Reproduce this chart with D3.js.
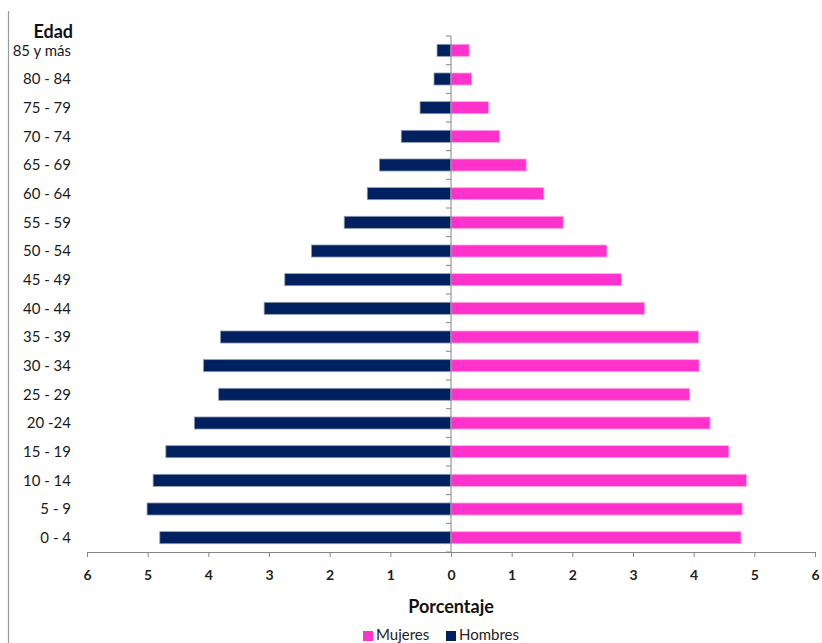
<!DOCTYPE html>
<html><head><meta charset="utf-8">
<script src="https://cdn.jsdelivr.net/npm/d3@7"></script>
<style>
html,body{margin:0;padding:0;background:#fff;}
svg{display:block;font-family:Lato,"Open Sans",sans-serif;}
</style></head>
<body>
<script>
const ages = ["0 - 4","5 - 9","10 - 14","15 - 19","20 -24","25 - 29","30 - 34","35 - 39","40 - 44","45 - 49","50 - 54","55 - 59","60 - 64","65 - 69","70 - 74","75 - 79","80 - 84","85 y más"];
const hombres = [4.80,5.01,4.91,4.70,4.23,3.83,4.08,3.80,3.08,2.74,2.30,1.76,1.38,1.18,0.82,0.51,0.28,0.23];
const mujeres = [4.78,4.80,4.87,4.58,4.27,3.93,4.09,4.08,3.19,2.81,2.57,1.85,1.53,1.24,0.80,0.62,0.34,0.30];
const xTicks = [-6,-5,-4,-3,-2,-1,0,1,2,3,4,5,6];
const seriesNames = ["Mujeres","Hombres"];
const colors = {Mujeres:"#ff33cc", Hombres:"#002060"};

const W = 822, H = 643;
const svg = d3.select("body").append("svg").attr("width",W).attr("height",H);

// left frame line
svg.append("line").attr("x1",8.5).attr("x2",8.5).attr("y1",11).attr("y2",H).attr("stroke","#9a9a9a").attr("stroke-width",1.2);

const x = d3.scaleLinear().domain([-6,6]).range([87,815]);
const order = ages.slice().reverse();
const yBand = d3.scaleBand().domain(order).range([36,552]).padding(0);
const yBar = d3.scaleBand().domain(order).range([36,552]).paddingInner(0.58).paddingOuter(0.29);

// bars
const rows = ages.map((a,i)=>({age:a,h:hombres[i],m:mujeres[i]}));
svg.append("g").selectAll("rect").data(rows).join("rect")
  .attr("x",d=>x(-d.h)).attr("width",d=>x(0)-x(-d.h))
  .attr("y",d=>yBar(d.age)).attr("height",yBar.bandwidth())
  .attr("fill",colors.Hombres).attr("stroke","#8f9ab5").attr("stroke-width",0.8);
svg.append("g").selectAll("rect").data(rows).join("rect")
  .attr("x",x(0)).attr("width",d=>x(d.m)-x(0))
  .attr("y",d=>yBar(d.age)).attr("height",yBar.bandwidth())
  .attr("fill",colors.Mujeres).attr("stroke","#ffa8e6").attr("stroke-width",0.8);

// x axis
const xAxis = d3.axisBottom(x).tickValues(xTicks).tickFormat(d=>Math.abs(d)).tickSize(5).tickSizeOuter(0);
const gx = svg.append("g").attr("transform","translate(0,552)").call(xAxis);
gx.select(".domain").attr("stroke","#868686");
gx.selectAll(".tick line").attr("stroke","#868686");
gx.selectAll(".tick text").attr("dy",0).attr("y",28).attr("font-size",14).attr("font-weight","bold").attr("fill","#222").attr("font-family","Lato,sans-serif");

// vertical axis at 0
svg.append("line").attr("x1",x(0)).attr("x2",x(0)).attr("y1",36).attr("y2",552)
  .attr("stroke","#868686").attr("stroke-width",1);
const bounds = order.map(a=>yBand(a)).concat([552]);
svg.append("g").selectAll("line").data(bounds).join("line")
  .attr("x1",x(0)-5).attr("x2",x(0)).attr("y1",d=>d).attr("y2",d=>d)
  .attr("stroke","#868686").attr("stroke-width",1);

// category labels
svg.append("g").selectAll("text").data(order).join("text")
  .attr("x",71).attr("y",d=>yBand(d)+yBand.bandwidth()/2)
  .attr("dy","0.35em").attr("text-anchor","end")
  .attr("font-size",15).attr("fill","#1a1a1a").text(d=>d);

svg.append("text").attr("x",73).attr("y",38).attr("text-anchor","end")
  .attr("font-size",18).attr("font-weight","bold").attr("fill","#111").text("Edad");

svg.append("text").attr("x",451).attr("y",613).attr("text-anchor","middle")
  .attr("font-size",18).attr("font-weight","bold").attr("fill","#111").text("Porcentaje");

// legend
const leg = [{name:"Mujeres",x:363},{name:"Hombres",x:446}];
const lg = svg.append("g").selectAll("g").data(leg).join("g");
lg.append("rect").attr("x",d=>d.x).attr("y",631).attr("width",10).attr("height",10).attr("fill",d=>colors[d.name]);
lg.append("text").attr("x",d=>d.x+13).attr("y",640).attr("font-size",15).attr("fill","#222").text(d=>d.name);
</script>
</body></html>
